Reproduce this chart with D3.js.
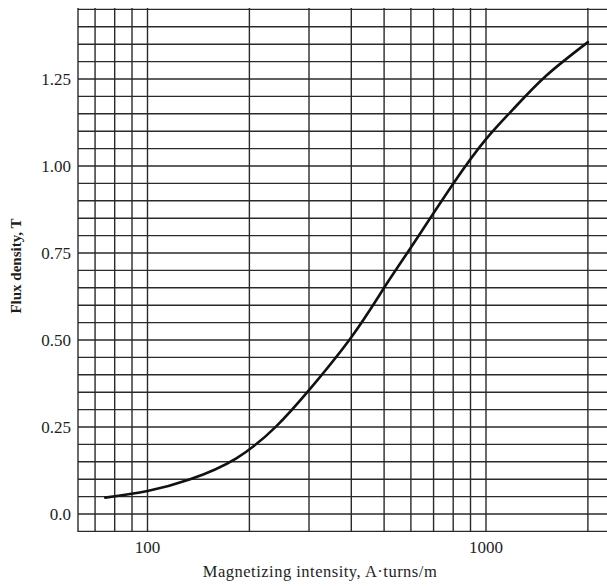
<!DOCTYPE html>
<html>
<head>
<meta charset="utf-8">
<script src="https://cdn.jsdelivr.net/npm/d3@7"></script>
<style>
  body { margin: 0; background: #fff; }
  svg { display: block; }
  text { font-family: "Liberation Serif", "DejaVu Serif", serif; fill: #1e1e1e; }
</style>
</head>
<body>
<svg id="chart" width="607" height="586"></svg>
<script>
// Magnetization (B-H) curve: flux density vs magnetizing intensity
const magnetizingIntensity = [75, 100, 133, 183, 240, 300, 400, 500, 600, 800, 1000, 1200, 1500, 2000];
const fluxDensity = [0.047, 0.066, 0.099, 0.160, 0.252, 0.356, 0.508, 0.650, 0.766, 0.949, 1.077, 1.162, 1.258, 1.356];

const xGridValues = [70, 80, 90, 100, 200, 300, 400, 500, 600, 700, 800, 900, 1000, 2000];
const xTickLabels = [100, 1000];
const yTickValues = [0, 0.25, 0.5, 0.75, 1.0, 1.25];
const yTickLabels = ["0.0", "0.25", "0.50", "0.75", "1.00", "1.25"];

const svg = d3.select("#chart");

const frame = { left: 78, top: 8, bottom: 532, right: 612 };

const x = d3.scaleLog().domain([100, 1000]).range([147.5, 486]);
const y = d3.scaleLinear().domain([0, 1]).range([514, 166]);

const yMin = y.invert(frame.bottom), yMax = y.invert(frame.top);
const yGridValues = d3.range(Math.round(yMin * 20), Math.round(yMax * 20) + 1).map(k => k / 20);

const grid = svg.append("g").attr("stroke", "#2a2a2a").attr("stroke-width", 1.4);

// horizontal grid every 0.05 T
grid.selectAll("line.h").data(yGridValues).join("line")
  .attr("class", "h")
  .attr("x1", frame.left).attr("x2", frame.right)
  .attr("y1", d => y(d)).attr("y2", d => y(d));

// vertical log grid
grid.selectAll("line.v").data(xGridValues).join("line")
  .attr("class", "v")
  .attr("x1", d => x(d)).attr("x2", d => x(d))
  .attr("y1", frame.top).attr("y2", frame.bottom);

// left border
grid.append("line")
  .attr("x1", frame.left).attr("x2", frame.left)
  .attr("y1", frame.top).attr("y2", frame.bottom);

// curve
const line = d3.line()
  .x((d, i) => x(magnetizingIntensity[i]))
  .y(d => y(d))
  .curve(d3.curveNatural);

svg.append("path")
  .datum(fluxDensity)
  .attr("fill", "none")
  .attr("stroke", "#111")
  .attr("stroke-width", 2.6)
  .attr("stroke-linecap", "round")
  .attr("d", line);

// y tick labels
svg.append("g").selectAll("text").data(yTickValues).join("text")
  .attr("x", 71)
  .attr("y", d => y(d))
  .attr("dy", "0.36em")
  .attr("text-anchor", "end")
  .attr("font-size", 17)
  .text((d, i) => yTickLabels[i]);

// x tick labels
svg.append("g").selectAll("text").data(xTickLabels).join("text")
  .attr("x", d => x(d))
  .attr("y", 553)
  .attr("text-anchor", "middle")
  .attr("font-size", 17)
  .text(d => d);

// axis titles
svg.append("text")
  .attr("x", 320).attr("y", 577)
  .attr("text-anchor", "middle")
  .attr("font-size", 16.5)
  .attr("letter-spacing", 0.5)
  .text("Magnetizing intensity, A·turns/m");

svg.append("text")
  .attr("transform", "translate(21,266) rotate(-90)")
  .attr("text-anchor", "middle")
  .attr("font-size", 15)
  .attr("font-weight", "bold")
  .text("Flux density, T");
</script>
</body>
</html>
